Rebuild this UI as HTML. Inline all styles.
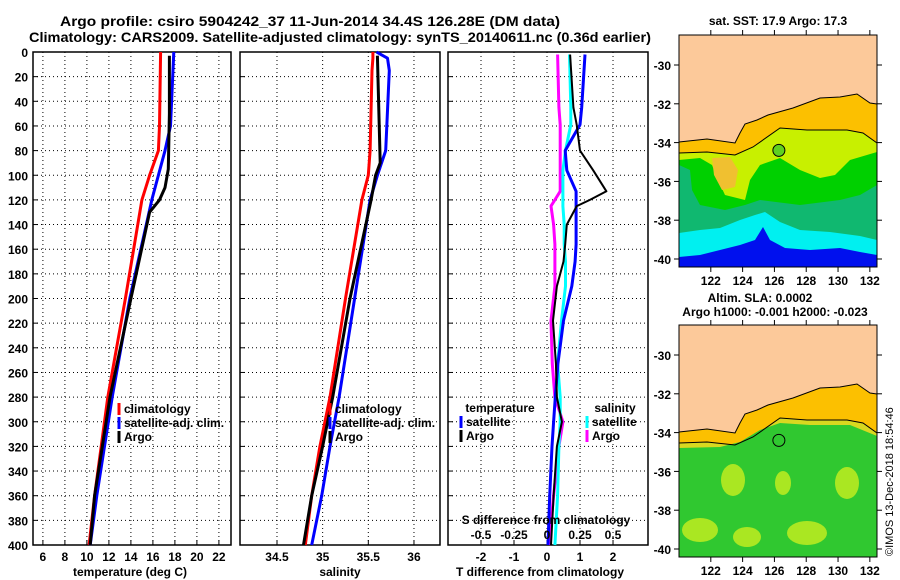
<!DOCTYPE html>
<html><head><meta charset="utf-8">
<style>
html,body{margin:0;padding:0;background:#fff;}
svg{display:block;font-family:"Liberation Sans",sans-serif;font-weight:bold;}
</style></head>
<body>
<svg id="fig" width="900" height="580" viewBox="0 0 900 580" xmlns="http://www.w3.org/2000/svg">
<text x="310" y="26" font-size="14" text-anchor="middle" textLength="500" lengthAdjust="spacingAndGlyphs">Argo profile: csiro 5904242_37 11-Jun-2014 34.4S 126.28E (DM data)</text>
<text x="340" y="42" font-size="14" text-anchor="middle" textLength="622" lengthAdjust="spacingAndGlyphs">Climatology: CARS2009. Satellite-adjusted climatology: synTS_20140611.nc (0.36d earlier)</text>
<g id="p1"></g>
<g id="p2"></g>
<g id="p3"></g>
<g id="m1"></g>
<g id="m2"></g>
<text x="778" y="25" font-size="12" text-anchor="middle">sat. SST: 17.9 Argo: 17.3</text>
<text x="760" y="302" font-size="12" text-anchor="middle">Altim. SLA: 0.0002</text>
<text x="775" y="316" font-size="12" text-anchor="middle">Argo h1000: -0.001 h2000: -0.023</text>
<text transform="translate(893,556) rotate(-90)" font-size="11" font-weight="normal">©IMOS 13-Dec-2018 18:54:46</text>
</svg>
<script>
// ---- data ----
const tDepth=[0,60,80,100,120,200,280,320,360,400];
const tClim=[16.7,16.6,16.5,15.7,15.0,13.5,11.9,11.3,10.7,10.2];
const tSat=[17.9,17.6,17.1,16.5,15.9,13.9,12.3,11.6,10.9,10.3];
const tArgoDepth=[3,50,95,110,120,130,200,280,320,360,400];
const tArgo=[17.5,17.5,17.4,17.1,16.6,15.7,14.0,12.1,11.4,10.7,10.3];
const sDepth=[0,5,15,80,100,120,200,280,320,360,400];
const sClim=[35.55,35.55,35.54,35.52,35.5,35.43,35.25,35.08,34.97,34.88,34.81];
const sSat=[35.59,35.71,35.73,35.69,35.6,35.52,35.35,35.18,35.08,34.99,34.88];
const sArgoDepth=[3,90,100,120,200,280,320,360,400];
const sArgo=[35.6,35.63,35.58,35.53,35.3,35.11,35.0,34.88,34.79];
const dDepth=[2,45,59,80,96,113,120,125,140,156,170,190,218,253,280,300,320,360,400];
const dtArgo=[0.7,0.8,0.9,1.0,1.4,1.8,1.3,0.9,0.6,0.55,0.5,0.3,0.18,0.27,0.3,0.45,0.3,0.2,0.12];
const dtSat=[1.15,1.05,1.0,0.55,0.6,0.88,0.88,0.88,0.88,0.88,0.85,0.75,0.5,0.33,0.25,0.2,0.15,0.08,0.03];
const dsArgo=[0.08,0.09,0.1,0.1,0.1,0.1,0.06,0.03,0.05,0.06,0.06,0.06,0.03,0.04,0.06,0.12,0.09,0.05,0.015];
const dsSat=[0.17,0.18,0.18,0.14,0.12,0.12,0.12,0.12,0.13,0.13,0.14,0.14,0.11,0.08,0.1,0.1,0.09,0.08,0.06];
const depthTicks=[0,20,40,60,80,100,120,140,160,180,200,220,240,260,280,300,320,340,360,380,400];
const tTicks=[6,8,10,12,14,16,18,20,22];
const sTicks=[34.5,35,35.5,36];
const dTicks=[-2,-1,0,1,2];
const dsTicks=[-0.5,-0.25,0,0.25,0.5];
const dsTickLabels=["-0.5","-0.25","0","0.25","0.5"];
const lonTicks=[122,124,126,128,130,132];
const latTicks=[-30,-32,-34,-36,-38,-40];
// ---- helpers ----
const NS="http://www.w3.org/2000/svg";
function mk(parent,tag,attrs){const e=document.createElementNS(NS,tag);for(const k in attrs)e.setAttribute(k,attrs[k]);parent.appendChild(e);return e;}
const Y0=52,Y1=545;
const yD=d=>Y0+(Y1-Y0)*d/400;
function lin(a,b,px0,px1){return v=>px0+(v-a)/(b-a)*(px1-px0);}
function panel(g,x0,x1,xs,ticks,labels){
  ticks.forEach(t=>{const x=xs(t);
    const l=mk(g,'line',{x1:x,x2:x,y1:Y0,y2:Y1,stroke:'#000','stroke-width':1,'stroke-dasharray':'1,3'});
    
    const tk=mk(g,'line',{x1:x,x2:x,y1:Y1,y2:Y1-5,stroke:'#000'});
    
    const tx=mk(g,'text',{x:x,y:Y1+16,'font-size':12,'text-anchor':'middle'});tx.textContent=labels?labels(t):String(t);
    
  });
  depthTicks.forEach(d=>{const y=yD(d);
    const l=mk(g,'line',{x1:x0,x2:x1,y1:y,y2:y,stroke:'#000','stroke-dasharray':'1,3'});
    
    const tk=mk(g,'line',{x1:x0,x2:x0+5,y1:y,y2:y,stroke:'#000'});
    
  });
  const r=mk(g,'rect',{x:x0,y:Y0,width:x1-x0,height:Y1-Y0,fill:'none',stroke:'#000','stroke-width':1.5});
  
}
function series(g,xs,vals,deps,color,w,name){
  const pts=vals.map((v,i)=>xs(v).toFixed(1)+','+yD(deps[i]).toFixed(1)).join(' ');
  const p=mk(g,'polyline',{points:pts,fill:'none',stroke:color,'stroke-width':w,'stroke-linejoin':'round'});
  
}
function legend(g,x,y,items){
  items.forEach((it,i)=>{const yy=y+i*14;
    const l=mk(g,'line',{x1:x,x2:x,y1:yy-10,y2:yy+2,stroke:it[1],'stroke-width':3});
    
    const t=mk(g,'text',{x:x+5,y:yy,'font-size':12});t.textContent=it[0];
    
  });
}
// panel 1
const p1=document.getElementById('p1');
const xT=lin(5.1,23.1,33,231);
panel(p1,33,231,xT,tTicks);
depthTicks.forEach(d=>{const t=mk(p1,'text',{x:28,y:yD(d)+5,'font-size':12,'text-anchor':'end'});t.textContent=d;
  });
series(p1,xT,tClim,tDepth,'#f00',3,'temp-climatology-line');
series(p1,xT,tSat,tDepth,'#00f',3,'temp-satellite-line');
series(p1,xT,tArgo,tArgoDepth,'#000',3,'temp-argo-line');
legend(p1,119,413,[['climatology','#f00'],['satellite-adj. clim.','#00f'],['Argo','#000']]);
let t=mk(p1,'text',{x:130,y:576,'font-size':12,'text-anchor':'middle'});t.textContent='temperature (deg C)';

// panel 2
const p2=document.getElementById('p2');
const xS=lin(34.095,36.285,240,440);
panel(p2,240,440,xS,sTicks);
series(p2,xS,sClim,sDepth,'#f00',3,'sal-climatology-line');
series(p2,xS,sSat,sDepth,'#00f',3,'sal-satellite-line');
series(p2,xS,sArgo,sArgoDepth,'#000',3,'sal-argo-line');
legend(p2,330,413,[['climatology','#f00'],['satellite-adj. clim.','#00f'],['Argo','#000']]);
t=mk(p2,'text',{x:340,y:576,'font-size':12,'text-anchor':'middle'});t.textContent='salinity';

// panel 3
const p3=document.getElementById('p3');
const xD=lin(-3,3.06,448,648);
const xDS=lin(-0.75,0.765,448,648);
panel(p3,448,648,xD,dTicks);
series(p3,xDS,dsArgo,dDepth,'#f0f',3,'sdiff-argo-line');
series(p3,xDS,dsSat,dDepth,'#0ff',3,'sdiff-satellite-line');
series(p3,xD,dtSat,dDepth,'#00f',3,'tdiff-satellite-line');
series(p3,xD,dtArgo,dDepth,'#000',2,'tdiff-argo-line');
t=mk(p3,'text',{x:500,y:412,'font-size':12,'text-anchor':'middle'});t.textContent='temperature';

t=mk(p3,'text',{x:615,y:412,'font-size':12,'text-anchor':'middle'});t.textContent='salinity';

legend(p3,461,426,[['satellite','#00f'],['Argo','#000']]);
legend(p3,587,426,[['satellite','#0ff'],['Argo','#f0f']]);
t=mk(p3,'text',{x:546,y:524,'font-size':12,'text-anchor':'middle'});t.textContent='S difference from climatology';

dsTicks.forEach((v,i)=>{const tx=mk(p3,'text',{x:xDS(v),y:539,'font-size':12,'text-anchor':'middle'});tx.textContent=dsTickLabels[i];
  });
t=mk(p3,'text',{x:540,y:576,'font-size':12,'text-anchor':'middle'});t.textContent='T difference from climatology';

// maps
function map(id,oy,type){
  const g=document.getElementById(id);
  const X0=679,X1=877,T=35+oy,B=267+oy;
  const lx=lin(120,132.45,X0,X1), ly=v=>65+oy+(v+30)*(-19.4);
  const cp=mk(g,'clipPath',{id:'c'+id});mk(cp,'rect',{x:X0,y:T,width:X1-X0,height:B-T});
  const inner=mk(g,'g',{'clip-path':'url(#c'+id+')'});
  
  const P=s=>s.map(p=>p[0]+','+(p[1]+oy)).join(' ');
  mk(inner,'rect',{x:X0,y:T,width:X1-X0,height:B-T,fill:'#fcc99a'});
  const coast=[[679,142],[707,139],[735,143],[740,133],[745,124],[757,120],[768,115],[793,108],[820,98],[840,97],[857,94],[870,103],[877,104]];
  const shelf=[[679,153],[707,152],[735,155],[753,147],[780,128],[807,130],[847,130],[863,133],[877,143]];
  const bot=[[877,300],[679,300]];
  mk(inner,'polygon',{points:P(coast.concat(bot)),fill:'#fcc000'});
  if(type==='sst'){
    mk(inner,'polygon',{points:P(shelf.concat(bot)),fill:'#c8f000'});
    mk(inner,'polygon',{points:P([[679,160],[700,158],[712,165],[718,180],[725,195],[745,200],[750,180],[760,165],[780,158],[800,170],[820,178],[835,175],[850,160],[877,152]].concat(bot)),fill:'#00d000'});
    mk(inner,'polygon',{points:P([[712,158],[730,157],[738,170],[735,187],[722,190],[714,175]]),fill:'#f0c030'});
    mk(inner,'polygon',{points:P([[679,165],[690,170],[692,190],[700,205],[725,210],[745,205],[760,200],[800,205],[840,200],[860,195],[877,185]].concat(bot)),fill:'#10b870'});
    mk(inner,'polygon',{points:P([[679,233],[700,230],[720,228],[740,220],[755,215],[765,212],[780,222],[800,230],[830,232],[860,236],[877,240]].concat(bot)),fill:'#00f0f0'});
    mk(inner,'polygon',{points:P([[679,257],[700,255],[720,250],[740,245],[755,240],[763,227],[770,240],[785,248],[810,250],[840,248],[860,252],[877,255]].concat(bot)),fill:'#0010ee'});
  } else {
    mk(inner,'polygon',{points:P(shelf.concat(bot)),fill:'#d8d820'});
    mk(inner,'polygon',{points:P([[679,158],[720,157],[740,152],[760,140],[780,133],[810,135],[850,135],[877,146]].concat(bot)),fill:'#30c830'});
    [[733,190,12,16],[783,193,8,12],[847,193,12,16],[700,240,18,12],[747,247,14,10],[807,243,20,12]].forEach(e=>
      mk(inner,'ellipse',{cx:e[0],cy:e[1]+oy,rx:e[2],ry:e[3],fill:'#c0ec20',opacity:0.85}));
  }
  mk(inner,'polyline',{points:P(coast),fill:'none',stroke:'#000','stroke-width':1});
  mk(inner,'polyline',{points:P(shelf),fill:'none',stroke:'#000','stroke-width':1});
  const c=mk(g,'circle',{cx:lx(126.28),cy:ly(-34.4),r:6,fill:type==='sst'?'#60d020':'none',stroke:'#000','stroke-width':1});
  
  const fr=mk(g,'rect',{x:X0,y:T,width:X1-X0,height:B-T,fill:'none',stroke:'#000','stroke-width':1});
  
  lonTicks.forEach(v=>{const x=lx(v);
    mk(g,'line',{x1:x,x2:x,y1:B,y2:B+5,stroke:'#000'});mk(g,'line',{x1:x,x2:x,y1:T,y2:T-5,stroke:'#000'});
    const tx=mk(g,'text',{x:x,y:B+18,'font-size':12,'text-anchor':'middle'});tx.textContent=v;
    });
  latTicks.forEach(v=>{const y=ly(v);
    mk(g,'line',{x1:X0,x2:X0-5,y1:y,y2:y,stroke:'#000'});mk(g,'line',{x1:X1,x2:X1+5,y1:y,y2:y,stroke:'#000'});
    const tx=mk(g,'text',{x:X0-8,y:y+5,'font-size':12,'text-anchor':'end'});tx.textContent=v;
    });
}
map('m1',0,'sst');
map('m2',290,'sla');
</script>
</body></html>
